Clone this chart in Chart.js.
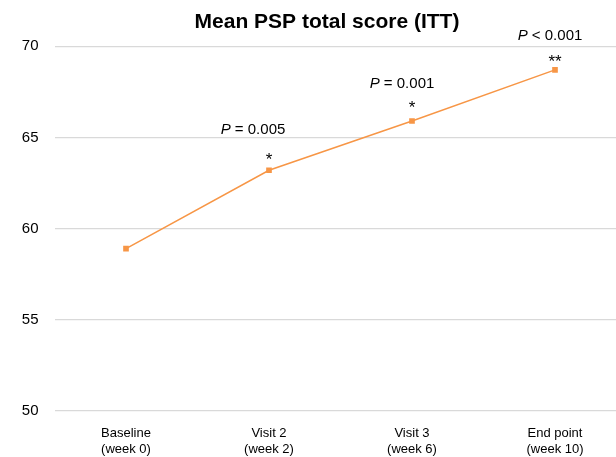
<!DOCTYPE html>
<html>
<head>
<meta charset="utf-8">
<script src="https://cdn.jsdelivr.net/npm/chart.js@4.4.1/dist/chart.umd.min.js"></script>
<style>
  html, body { margin: 0; padding: 0; overflow: hidden; background: #fff; width: 616px; height: 457px; }
  #wrap { position: absolute; left: 0; top: 0; width: 654px; height: 457px; }
</style>
</head>
<body>
<div id="wrap"><canvas id="c" width="654" height="457"></canvas></div>
<script>
// ---- data ----
const categories = [["Baseline", "(week 0)"], ["Visit 2", "(week 2)"], ["Visit 3", "(week 6)"], ["End point", "(week 10)"]];
const meanPSP = [58.9, 63.2, 65.9, 68.7];
const pValueText = ["", "= 0.005", "= 0.001", "< 0.001"];
const significance = ["", "*", "*", "**"];
const yTicks = [50, 55, 60, 65, 70];

const FONT = "'Liberation Sans', Arial, Helvetica, sans-serif";

// annotation styling (offsets relative to each point, in px)
const annotStyle = {
  pDx: [0, -16, -10, -5],
  pDy: [0, -42, -38, -35],
  starDy: [0, -15, -17, -12]
};

const annotPlugin = {
  id: 'annot',
  afterDatasetsDraw(chart) {
    const ctx = chart.ctx;
    const meta = chart.getDatasetMeta(0);
    ctx.save();
    ctx.fillStyle = '#000';
    meta.data.forEach((pt, i) => {
      if (!pValueText[i]) return;
      const x = pt.x, y = pt.y;
      const fs = 15;
      const italic = 'italic ' + fs + 'px ' + FONT;
      const normal = fs + 'px ' + FONT;
      ctx.font = italic;
      const wP = ctx.measureText('P').width;
      ctx.font = normal;
      const rest = ' ' + pValueText[i];
      const wR = ctx.measureText(rest).width;
      const total = wP + wR;
      const cx = x + annotStyle.pDx[i];
      const by = y + annotStyle.pDy[i] + 5.5;
      ctx.textAlign = 'left';
      ctx.textBaseline = 'alphabetic';
      ctx.font = italic;
      ctx.fillText('P', cx - total / 2, by);
      ctx.font = normal;
      ctx.fillText(rest, cx - total / 2 + wP, by);
      ctx.font = '17px ' + FONT;
      ctx.textAlign = 'center';
      ctx.fillText(significance[i], x, y + annotStyle.starDy[i] + 9.5);
    });
    ctx.restore();
  }
};

new Chart(document.getElementById('c'), {
  type: 'line',
  data: {
    labels: categories,
    datasets: [{
      data: meanPSP,
      yAxisID: 'y',
      borderColor: '#F79646',
      backgroundColor: '#F79646',
      borderWidth: 1.5,
      pointStyle: 'rect',
      pointRadius: 4,
      pointBorderWidth: 0,
      pointBackgroundColor: '#F79646',
      tension: 0,
      fill: false
    }]
  },
  options: {
    responsive: false,
    animation: false,
    devicePixelRatio: 1,
    layout: { padding: 0 },
    plugins: {
      legend: { display: false },
      tooltip: { enabled: false },
      title: {
        display: true,
        text: 'Mean PSP total score (ITT)',
        color: '#000',
        font: { family: FONT, size: 21, weight: 'bold' },
        padding: { top: 10, bottom: 11 }
      }
    },
    scales: {
      x: {
        offset: true,
        grid: { display: false, drawTicks: false },
        border: { display: false },
        ticks: {
          color: '#000',
          font: { family: FONT, size: 13, lineHeight: 1.2 },
          padding: 15,
          maxRotation: 0,
          autoSkip: false
        },
        afterFit(scale) { scale.height = 46; }
      },
      y: {
        position: 'left',
        min: 50,
        max: 70,
        afterBuildTicks(scale) { scale.ticks = yTicks.map(v => ({ value: v })); },
        grid: { color: '#d9d9d9', lineWidth: 1.3, drawTicks: false },
        border: { display: false },
        ticks: {
          color: '#000',
          font: { family: FONT, size: 15 },
          padding: 16
        },
        afterFit(scale) { scale.width = 54.5; }
      },
      yRightSpacer: {
        position: 'right',
        min: 50,
        max: 70,
        grid: { display: false, drawTicks: false },
        border: { display: false },
        ticks: { display: false },
        afterFit(scale) { scale.width = 27.5; }
      }
    }
  },
  plugins: [annotPlugin]
});
</script>
</body>
</html>
